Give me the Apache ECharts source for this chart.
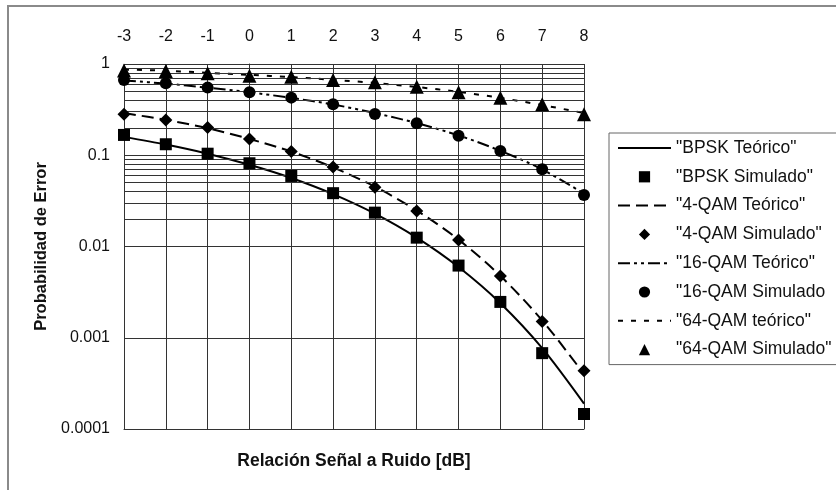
<!DOCTYPE html>
<html><head><meta charset="utf-8">
<script src="https://cdn.jsdelivr.net/npm/echarts@6/dist/echarts.min.js"></script>
<style>html,body{margin:0;padding:0;background:#fff}#c{width:836px;height:490px}</style>
</head><body><div id="c"></div>
<script>
// ---- data ----
const snr = [-3, -2, -1, 0, 1, 2, 3, 4, 5, 6, 7, 8];
const bpskTeo = [0.159, 0.131, 0.104, 0.0786, 0.0563, 0.0375, 0.0229, 0.0125, 0.00595, 0.00239, 0.00077, 0.00019];
const bpskSim = [0.167, 0.132, 0.104, 0.0817, 0.0593, 0.0384, 0.0235, 0.0125, 0.00618, 0.00247, 0.000678, 0.000146];
const qam4Teo = [0.29, 0.244, 0.198, 0.151, 0.1095, 0.0736, 0.0453, 0.0248, 0.0119, 0.00477, 0.00155, 0.0004];
const qam4Sim = [0.281, 0.244, 0.201, 0.151, 0.110, 0.0745, 0.0446, 0.0245, 0.0118, 0.00476, 0.00151, 0.000434];
const qam16Teo = [0.66, 0.61, 0.55, 0.49, 0.425, 0.36, 0.29, 0.225, 0.165, 0.112, 0.070, 0.038];
const qam16Sim = [0.668, 0.614, 0.551, 0.490, 0.428, 0.362, 0.283, 0.224, 0.164, 0.111, 0.0702, 0.0367];
const qam64Teo = [0.87, 0.845, 0.80, 0.76, 0.72, 0.67, 0.62, 0.56, 0.495, 0.425, 0.355, 0.29];
const qam64Sim = [0.85, 0.838, 0.79, 0.745, 0.726, 0.668, 0.63, 0.564, 0.49, 0.428, 0.362, 0.281];
const yTickLabels = ['0.0001', '0.001', '0.01', '0.1', '1'];
const decades = [0.0001, 0.001, 0.01, 0.1];
const minorMultipliers = [2, 3, 4, 5, 6, 7, 8, 9];
const seriesNames = ['"BPSK Teórico"', '"BPSK Simulado"', '"4-QAM Teórico"', '"4-QAM Simulado"',
  '"16-QAM Teórico"', '"16-QAM Simulado', '"64-QAM teórico"', '"64-QAM Simulado"'];

// ---- build ----
const pts = vals => snr.map((x, i) => [x, vals[i]]);
const FONT = '"Liberation Sans", Arial, sans-serif';
const GRID_COLOR = '#333';

const minorLines = [];
decades.forEach(d => minorMultipliers.forEach(m => minorLines.push({ yAxis: d * m })));

function teo(name, vals, dash) {
  return {
    name, type: 'line', data: pts(vals), symbol: 'none', smooth: 0.3, z: 3,
    lineStyle: { color: '#000', width: 2, type: dash },
    itemStyle: { color: '#000' }
  };
}
function sim(name, vals, sym, size) {
  return {
    name, type: 'line', data: pts(vals), symbol: sym, symbolSize: size, showSymbol: true, z: 5,
    lineStyle: { color: '#000', width: 2, opacity: 0 },
    itemStyle: { color: '#000', opacity: 1 }
  };
}

const series = [
  { name: 'minorgrid', type: 'line', data: [], z: 1, silent: true,
    markLine: { silent: true, symbol: ['none', 'none'], label: { show: false }, animation: false,
      lineStyle: { color: GRID_COLOR, width: 1, type: 'solid' }, data: minorLines } },
  teo(seriesNames[0], bpskTeo, 'solid'),
  sim(seriesNames[1], bpskSim, 'rect', 12),
  teo(seriesNames[2], qam4Teo, [12, 6]),
  sim(seriesNames[3], qam4Sim, 'diamond', 13),
  teo(seriesNames[4], qam16Teo, [12, 4, 3, 4, 3, 4]),
  sim(seriesNames[5], qam16Sim, 'circle', 12),
  teo(seriesNames[6], qam64Teo, [5, 8]),
  sim(seriesNames[7], qam64Sim, 'triangle', 14)
];

const legendData = seriesNames.map((n, i) => i % 2 === 0
  ? { name: n, itemStyle: { opacity: 0 } }
  : { name: n, lineStyle: { opacity: 0 } });

const chart = echarts.init(document.getElementById('c'), null, { renderer: 'canvas' });
chart.setOption({
  animation: false,
  backgroundColor: '#fff',
  textStyle: { fontFamily: FONT },
  graphic: [{ type: 'rect', shape: { x: 8, y: 6, width: 900, height: 600 }, silent: true,
    style: { fill: 'none', stroke: '#8a8a8a', lineWidth: 2 } }],
  grid: { left: 124, right: 252, top: 64, bottom: 61, containLabel: false },
  legend: {
    orient: 'vertical', left: 609, top: 133, data: legendData,
    itemWidth: 53, itemHeight: 14, itemGap: 10.8,
    padding: [6, 40, 6, 8],
    borderColor: '#666', borderWidth: 1,
    textStyle: { fontFamily: FONT, fontSize: 17.5, color: '#111' },
    selectedMode: false
  },
  xAxis: [{
    type: 'value', position: 'top', min: -3, max: 8, interval: 1,
    axisLine: { show: true, lineStyle: { color: GRID_COLOR, width: 1 } },
    axisTick: { show: false },
    axisLabel: { fontFamily: FONT, fontSize: 16, color: '#111', margin: 19 },
    splitLine: { show: true, lineStyle: { color: GRID_COLOR, width: 1 } }
  }, {
    type: 'value', position: 'bottom', min: -3, max: 8, interval: 1,
    axisLine: { show: true, lineStyle: { color: GRID_COLOR, width: 1 } },
    axisTick: { show: false }, axisLabel: { show: false }, splitLine: { show: false },
    name: 'Relación Señal a Ruido [dB]', nameLocation: 'middle', nameGap: 23,
    nameTextStyle: { fontFamily: FONT, fontSize: 17.5, fontWeight: 'bold', color: '#111' }
  }],
  yAxis: {
    type: 'log', logBase: 10, min: 0.0001, max: 1,
    axisLine: { show: true, lineStyle: { color: GRID_COLOR, width: 1 } },
    axisTick: { show: false },
    axisLabel: { fontFamily: FONT, fontSize: 16, color: '#111', margin: 14,
      formatter: v => yTickLabels[Math.round(Math.log10(v)) + 4] },
    splitLine: { show: true, lineStyle: { color: GRID_COLOR, width: 1 } },
    name: 'Probabilidad de Error', nameLocation: 'middle', nameGap: 74,
    nameTextStyle: { fontFamily: FONT, fontSize: 16.5, fontWeight: 'bold', color: '#111' }
  },
  series
});
</script></body></html>
